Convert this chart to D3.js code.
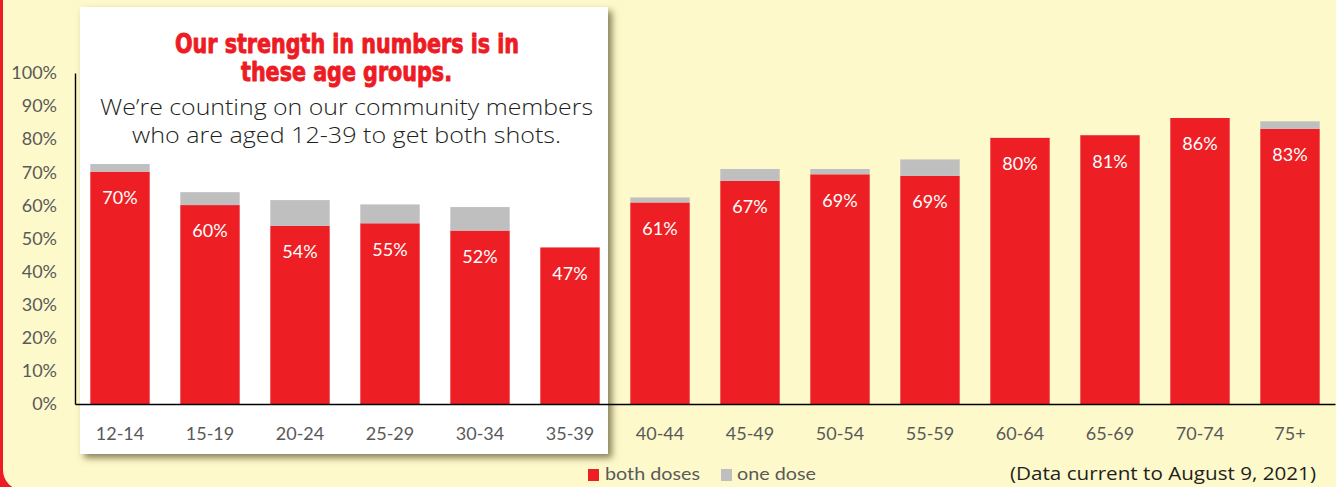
<!DOCTYPE html>
<html>
<head>
<meta charset="utf-8">
<script src="https://cdn.jsdelivr.net/npm/d3@7"></script>
<style>
  html, body { margin: 0; padding: 0; background: #ED1C24; }
  svg { display: block; }
</style>
</head>
<body>
<svg id="chart" width="1336" height="487"></svg>
<script>
// ---- data ----
const categories = ["12-14", "15-19", "20-24", "25-29", "30-34", "35-39", "40-44",
                    "45-49", "50-54", "55-59", "60-64", "65-69", "70-74", "75+"];
const bothDoses = [70.2, 60.1, 53.8, 54.6, 52.4, 47.3, 60.9, 67.4, 69.4, 68.9, 80.4, 81.2, 86.4, 83.1];
const oneDose   = [2.3, 3.9, 7.8, 5.7, 7.1, 0, 1.5, 3.6, 1.6, 5.0, 0, 0, 0, 2.3];
const yTicks = [0, 10, 20, 30, 40, 50, 60, 70, 80, 90, 100];
const seriesKeys = ["both", "one"];
const seriesNames = ["both doses", "one dose"];
const titleLines = ["Our strength in numbers is in", "these age groups."];
const subtitleLines = ["We\u2019re counting on our community members", "who are aged 12-39 to get both shots."];
const noteText = "(Data current to August 9, 2021)";

// ---- setup ----
const W = 1336, H = 487;
const svg = d3.select("#chart");
const colors = { both: "#ED1F24", one: "#BFBFBF" };
const labelFont = "Lato, 'Open Sans', sans-serif";

const defs = svg.append("defs");
const f = defs.append("filter").attr("id", "shadow")
  .attr("x", "-10%").attr("y", "-10%").attr("width", "120%").attr("height", "120%");
f.append("feDropShadow").attr("dx", 4).attr("dy", 4).attr("stdDeviation", 3.5)
  .attr("flood-color", "#5e5730").attr("flood-opacity", 0.75);

// panel background
svg.append("rect").attr("x", 0).attr("y", 0).attr("width", W).attr("height", H).attr("fill", "#ED1C24");
svg.append("rect").attr("x", 3).attr("y", -30).attr("width", W + 40).attr("height", 520)
  .attr("rx", 20).attr("fill", "#FEF9CB");

// white callout box
svg.append("rect").attr("x", 80).attr("y", 7).attr("width", 528).attr("height", 447)
  .attr("fill", "#ffffff").attr("filter", "url(#shadow)");

// title
const titleG = svg.append("g").attr("fill", "#ED1C24")
  .attr("stroke", "#ED1C24").attr("stroke-width", 0.9).attr("stroke-linejoin", "round")
  .style("font-family", "'DejaVu Sans Condensed', 'DejaVu Sans', sans-serif")
  .style("font-weight", "bold").style("font-size", "27px");
const titlePos = [{x: 175, y: 53, len: 344}, {x: 241, y: 81, len: 211}];
titleLines.forEach((t, i) => {
  titleG.append("text").attr("x", titlePos[i].x).attr("y", titlePos[i].y)
    .attr("textLength", titlePos[i].len).attr("lengthAdjust", "spacingAndGlyphs").text(t);
});

// subtitle
const subG = svg.append("g").attr("fill", "#231F20")
  .style("font-family", "'Open Sans', sans-serif").style("font-weight", 300).style("font-size", "22px");
const subPos = [{x: 100, y: 115, len: 493}, {x: 132, y: 143, len: 429}];
subtitleLines.forEach((t, i) => {
  subG.append("text").attr("x", subPos[i].x).attr("y", subPos[i].y)
    .attr("textLength", subPos[i].len).attr("lengthAdjust", "spacingAndGlyphs").text(t);
});

// ---- scales ----
const x = d3.scaleBand().domain(categories).range([75, 1335]).paddingInner(0.34).paddingOuter(0.17);
const y = d3.scaleLinear().domain([0, 100]).range([404, 73]);

const table = categories.map((c, i) => ({ cat: c, both: bothDoses[i], one: oneDose[i] }));
const stacked = d3.stack().keys(seriesKeys)(table);

// bars
svg.append("g").selectAll("g").data(stacked).join("g")
  .attr("fill", d => colors[d.key])
  .selectAll("rect").data(d => d.filter(p => p[1] - p[0] > 0)).join("rect")
  .attr("x", d => x(d.data.cat))
  .attr("width", x.bandwidth())
  .attr("y", d => y(d[1]))
  .attr("height", d => y(d[0]) - y(d[1]));

// data labels
svg.append("g").selectAll("text").data(table).join("text")
  .attr("x", d => x(d.cat) + x.bandwidth() / 2)
  .attr("y", d => y(d.both) + 26)
  .attr("dy", "0.35em")
  .attr("text-anchor", "middle")
  .attr("fill", "#ffffff")
  .style("font-family", labelFont).style("font-size", "18px")
  .text(d => d3.format(".0f")(d.both) + "%");

// axes
const xAxis = svg.append("g").attr("transform", `translate(0,${y(0)})`)
  .call(d3.axisBottom(x).tickSize(0).tickSizeOuter(0).tickPadding(23));
xAxis.select(".domain").attr("stroke", "#000").attr("stroke-width", 1.4);
xAxis.selectAll("text").attr("fill", "#595959").style("font-family", labelFont).style("font-size", "18px");

const yAxis = svg.append("g").attr("transform", `translate(75,0)`)
  .call(d3.axisLeft(y).tickValues(yTicks).tickFormat(d => d + "%").tickSize(0).tickSizeOuter(0).tickPadding(18));
yAxis.select(".domain").attr("stroke", "#000").attr("stroke-width", 1.4);
yAxis.selectAll("text").attr("fill", "#595959").style("font-family", labelFont).style("font-size", "18px");

// legend
const legend = svg.append("g").style("font-family", labelFont).style("font-size", "18px").attr("fill", "#595959");
const legPos = [{sx: 588, tx: 605, len: 95}, {sx: 721, tx: 737, len: 79}];
seriesKeys.forEach((k, i) => {
  legend.append("rect").attr("x", legPos[i].sx).attr("y", 469).attr("width", 11).attr("height", 12)
    .attr("fill", colors[k]);
  legend.append("text").attr("x", legPos[i].tx).attr("y", 480)
    .attr("textLength", legPos[i].len).attr("lengthAdjust", "spacingAndGlyphs").text(seriesNames[i]);
});

// note
svg.append("text").attr("x", 1010).attr("y", 480)
  .attr("textLength", 306).attr("lengthAdjust", "spacingAndGlyphs")
  .attr("fill", "#231F20").style("font-family", "'Open Sans', sans-serif").style("font-size", "19px")
  .text(noteText);
</script>
</body>
</html>
